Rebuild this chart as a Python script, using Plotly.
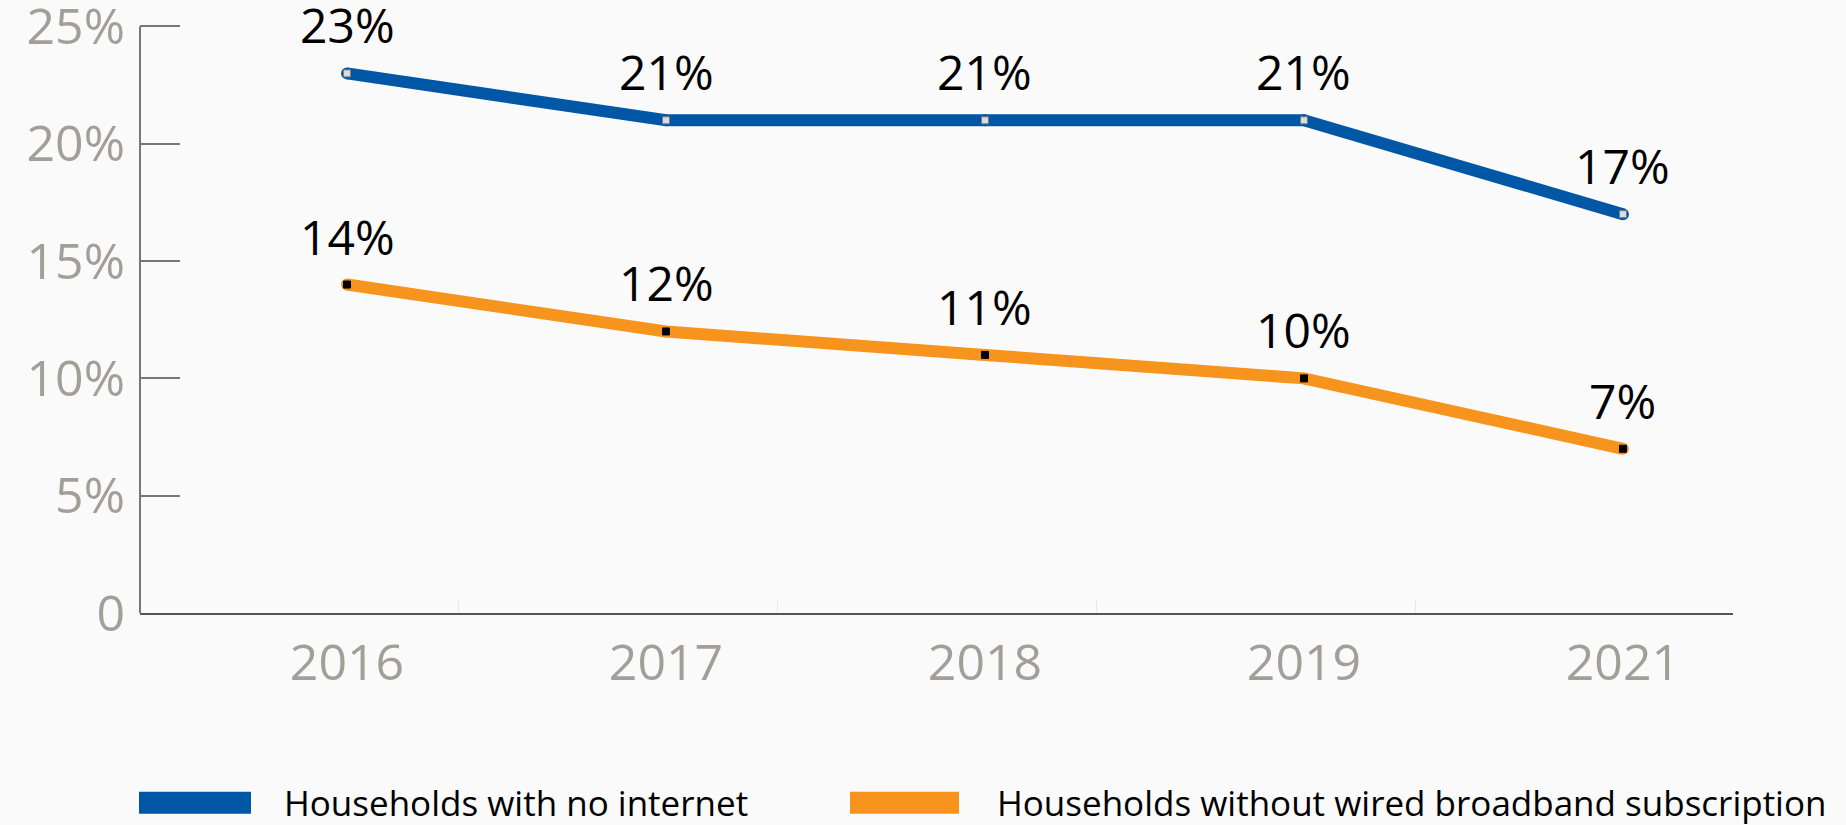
import plotly.graph_objects as go

years = ["2016", "2017", "2018", "2019", "2021"]
no_internet = [23, 21, 21, 21, 17]
no_wired = [14, 12, 11, 10, 7]
series_names = ["Households with no internet", "Households without wired broadband subscription"]
y_tickvals = [0, 5, 10, 15, 20, 25]
y_ticktext = ["0", "5%", "10%", "15%", "20%", "25%"]

BLUE = "#0057a6"
ORANGE = "#f7941d"
BG = "#fafafa"
FONT = "Open Sans"

xs = list(range(len(years)))
fig = go.Figure()

for vals, col, mfill, mline in [
    (no_internet, BLUE, "#dcdcdc", "#7a7a7a"),
    (no_wired, ORANGE, "#000000", "#000000"),
]:
    fig.add_trace(go.Scatter(
        x=xs, y=vals, mode="lines+markers",
        line=dict(color=col, width=12),
        marker=dict(symbol="circle", size=12, color=col, line=dict(width=0)),
        hoverinfo="skip", showlegend=False, cliponaxis=False,
    ))
    fig.add_trace(go.Scatter(
        x=xs, y=vals, mode="markers",
        marker=dict(symbol="square", size=7, color=mfill, line=dict(color=mline, width=1)),
        showlegend=False, cliponaxis=False,
    ))
    for x, v in zip(xs, vals):
        fig.add_annotation(
            x=x, y=v, text=f"{v}%", showarrow=False,
            xanchor="center", yanchor="bottom", yshift=14,
            font=dict(family=FONT, size=48, color="#000000"),
        )

W, H = 1846, 825
Y_TOP = 26.0               # extended y range (so the 25% tick is kept)
PX0, PX1 = 140, 1733
PY0 = 613                  # pixel of y=0
UNIT = (613 - 26) / 25.0   # pixels per percent
PY1 = PY0 - UNIT * Y_TOP   # pixel of plot top

# y axis line drawn only up to 25%
fig.add_shape(type="line", xref="paper", yref="y", x0=0, x1=0, y0=0, y1=25,
              line=dict(color="#777777", width=2))

# manual legend (wide swatches)
legend_items = [
    (series_names[0], BLUE, 139, 251, 282),
    (series_names[1], ORANGE, 850, 959, 995),
]
for name, col, x0, x1, tx in legend_items:
    fig.add_shape(type="rect", xref="paper", yref="paper",
                  x0=(x0 - PX0) / (PX1 - PX0), x1=(x1 - PX0) / (PX1 - PX0),
                  y0=(PY0 - 792) / (PY0 - PY1), y1=(PY0 - 814) / (PY0 - PY1),
                  fillcolor=col, line=dict(width=0))
    fig.add_annotation(xref="paper", yref="paper",
                       x=(tx - PX0) / (PX1 - PX0), y=(PY0 - 803) / (PY0 - PY1),
                       text=name, showarrow=False, xanchor="left", yanchor="middle",
                       font=dict(family=FONT, size=35, color="#000000"))

fig.update_layout(
    width=W, height=H,
    paper_bgcolor=BG, plot_bgcolor=BG,
    margin=dict(l=PX0, r=W - PX1, t=PY1, b=H - PY0, pad=0, autoexpand=False),
    showlegend=False,
    font=dict(family=FONT),
)
fig.update_xaxes(
    range=[-0.649, 4.345], tickvals=xs, ticktext=years,
    showgrid=False, zeroline=False, automargin=False,
    showline=True, linecolor="#555555", linewidth=2,
    ticks="", ticklabelstandoff=5, ticklabeloverflow="allow",
    tickfont=dict(family=FONT, size=50, color="#a39e98"),
    minor=dict(tick0=0.35, dtick=1, ticks="inside", ticklen=14, tickcolor="#e8e8e8", tickwidth=1),
)
fig.update_yaxes(
    range=[0, Y_TOP], tickvals=y_tickvals, ticktext=y_ticktext,
    showgrid=False, zeroline=False, automargin=False,
    showline=False,
    ticks="inside", ticklen=40, tickcolor="#777777", tickwidth=2,
    ticklabelstandoff=14, ticklabeloverflow="allow",
    tickfont=dict(family=FONT, size=50, color="#a39e98"),
)

fig.write_html(
    "out.html",
    config={"displayModeBar": False},
    post_script="document.body.style.margin='0';document.body.style.overflow='hidden';",
)
